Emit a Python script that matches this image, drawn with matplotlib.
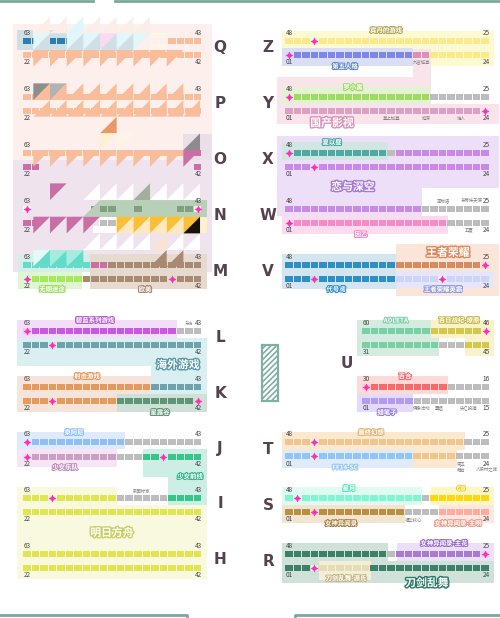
import matplotlib
matplotlib.use("Agg")
import matplotlib.pyplot as plt
import matplotlib.patheffects as pe
from matplotlib.patches import Rectangle

plt.rcParams['font.family'] = ['Noto Sans CJK SC', 'DejaVu Sans']
plt.rcParams['hatch.linewidth'] = 1.2

# seat colours
ORG = '#f9bd9c'; PNK = '#c96fa5'; BRN = '#a88a72'; TEAL = '#60dcc8'; GRN = '#a5e85c'
GRY = '#bdbdbd'; PUR = '#c75ae0'; SLT = '#6ea3ad'; AMB = '#e59a5e'; DGN = '#5f9577'
BLU = '#90bff5'; MAU = '#c9a0c4'; JAD = '#35c68c'; YEL = '#dfe650'; WHT = '#ffffff'
SBL = '#2b7fb0'; NGN = '#b9d0b8'; MOS = '#7f9f7f'; LAV = '#efe3ee'; BLS = '#fdf0ec'; CRM = '#fdf0cf'
PYL = '#fbe98a'; IND = '#7e87e8'; RSE = '#dc92b8'; LIM = '#9ddc5f'; MAG = '#dca0c4'
TL2 = '#4fa9a3'; LIL = '#c88ae6'; HOT = '#f58cc8'; OCE = '#2f8fc4'; TER = '#d98a5e'
PER = '#ced4f8'; MNT = '#78d0a6'; OLV = '#d5c74e'; RED = '#f86a6a'; VIO = '#b39cf0'
TAN = '#efc78e'; SKY = '#8ec6f5'; AQU = '#7ff5d0'; GLD = '#ffd70f'; OCH = '#bb8f42'
SAL = '#ffab9d'; FOR = '#3d8068'; PLM = '#a97ad2'; KHK = '#e6dcb4'

# left block, 21 seats per row: (row, segments, star seats)
left_rows = [
    (41, [(1, SBL), (1, SBL), (1, ORG), (3, SBL), (11, BLS), (4, ORG)], []),
    (55, [(21, ORG)], []),
    (97, [(21, ORG)], []),
    (111, [(21, ORG)], []),
    (153, [(20, ORG), (1, PNK)], []),
    (167, [(2, PNK), (18, LAV), (1, PNK)], []),
    (209, [(8, LAV), (3, MOS), (2, NGN), (1, MOS), (4, NGN), (2, MOS), (1, NGN)], [0, 20]),
    (223, [(2, PNK), (7, LAV), (2, GRY), (10, CRM)], []),
    (265, [(8, TEAL), (2, PNK), (11, BRN)], []),
    (279, [(7, GRN), (14, BRN)], [0, 17]),
    (331, [(18, PUR), (3, GRY)], [0]),
    (345, [(21, SLT)], [3]),
    (387, [(15, AMB), (6, SLT)], []),
    (401, [(11, AMB), (10, DGN)], [3, 20]),
    (442, [(12, BLU), (9, GRY)], [0]),
    (457, [(11, MAU), (3, GRY), (7, JAD)], [0, 16]),
    (498, [(11, YEL), (6, GRY), (4, JAD)], [3]),
    (512, [(21, YEL)], []),
    (554, [(21, YEL)], []),
    (568, [(21, YEL)], []),
]

# right block, 24 seats per row
right_rows = [
    (41, [(24, PYL)], [3]),
    (55, [(15, IND), (2, RSE), (7, PYL)], [0]),
    (97, [(17, LIM), (7, GRY)], [0]),
    (111, [(24, MAG)], [23]),
    (153, [(12, TL2), (1, GRY), (11, LIL)], [0]),
    (167, [(24, LIL)], [3]),
    (209, [(16, LIL), (8, GRY)], []),
    (223, [(19, HOT), (5, GRY)], [0]),
    (265, [(13, OCE), (11, TER)], [23]),
    (279, [(13, OCE), (11, PER)], [3, 18]),
    (442, [(21, TAN), (3, GRY)], [3]),
    (456, [(15, SKY), (5, TAN), (4, GRY)], [3]),
    (498, [(16, AQU), (1, GRY), (7, GLD)], [1]),
    (512, [(14, OCH), (4, GRY), (6, SAL)], [3]),
    (554, [(12, FOR), (1, GRY), (11, PLM)], [23]),
    (568, [(3, FOR), (7, KHK), (14, FOR)], [3]),
]

# block U, 15 seats per row
u_rows = [
    (331, [(8, MNT), (7, OLV)], [14]),
    (345, [(9, MNT), (3, GRY), (3, OLV)], []),
    (387, [(10, RED), (5, GRY)], [0]),
    (401, [(6, VIO), (9, GRY)], []),
]

# end-of-row seat numbers: (row, left number, right number)
left_numbers = [(33, '63', '43'), (62, '22', '42'), (89, '63', '43'), (118, '22', None),
                (145, '63', None), (174, '22', '42'), (201, '63', '43'), (230, '22', None),
                (257, '63', '43'), (286, '22', '42'), (323, '63', '43'), (352, '22', '42'),
                (379, '63', '43'), (408, '22', '42'), (434, '63', '43'), (464, '22', '42'),
                (490, '63', '43'), (519, '22', '42'), (546, '63', '43'), (575, '22', '42')]
right_numbers = [(33, '48', '25'), (62, '01', '24'), (89, '48', '25'), (118, '01', '24'),
                 (145, '48', '25'), (174, '01', '24'), (201, '48', '25'), (230, '01', '24'),
                 (257, '48', '25'), (286, '01', '24'), (434, '48', '25'), (464, '01', '24'),
                 (490, '48', '25'), (519, '01', '24'), (546, '48', '25'), (575, '01', '24')]
u_numbers = [(323, '60', '46'), (352, '31', '45'), (379, '30', '16'), (408, '01', '15')]

# hall letters
left_letters = ['Q', 'P', 'O', 'N', 'M', 'L', 'K', 'J', 'I', 'H']
left_letter_y = [47, 103, 159, 215, 271, 337, 393, 449, 504, 560]
right_letters = ['Z', 'Y', 'X', 'W', 'V', 'T', 'S', 'R']
right_letter_y = [47, 103, 159, 215, 271, 449, 505, 561]

# background zones: x0, y0, x1, y1, colour
zones = [
    (13, 24, 212, 160, BLS), (13, 160, 212, 272, LAV), (183, 134, 212, 160, '#ece0e8'),
    (17, 30, 33, 50, '#cfdfe6'), (50, 30, 67, 50, '#cfdfe6'), (150, 33, 167, 50, '#fdf6e6'),
    (18, 254, 90, 272, '#d5efe8'), (90, 254, 207, 289, '#e6d9cd'),
    (18, 272, 82, 289, '#dff5d3'), (93, 217, 207, 233, CRM), (93, 217, 117, 233, WHT), (100, 200, 207, 217, NGN),
    (17, 320, 177, 338, '#f3defa'), (17, 338, 207, 366, '#d9eff2'), (151, 366, 207, 394, '#d9eff2'),
    (17, 376, 151, 394, '#f6e4da'), (17, 394, 117, 412, '#f6e4da'), (117, 394, 207, 412, '#cfe0d6'),
    (17, 432, 125, 449, '#dfebfc'), (17, 449, 117, 467, '#f6e5f4'), (143, 449, 207, 477, '#cdeee4'),
    (168, 477, 207, 505, '#cdeee4'), (17, 487, 117, 505, '#f9f9e0'), (17, 505, 207, 579, '#f9f9e0'),
    (282, 31, 494, 66, '#fdf9d2'), (282, 48, 413, 66, '#dbdff5'), (413, 49, 431, 77, '#f9e4ec'),
    (277, 77, 431, 104, '#f9e4ec'), (282, 87, 431, 104, '#e3f2d3'), (277, 104, 499, 124, '#f9e4ec'),
    (277, 136, 499, 188, '#ecdff7'), (277, 188, 422, 216, '#ecdff7'), (282, 142, 388, 160, '#cfe6e2'),
    (282, 216, 448, 234, '#fbdcef'), (282, 254, 396, 289, '#d3e6ef'), (396, 244, 499, 296, '#fbe4d8'),
    (396, 271, 494, 288, '#e5e6fa'), (357, 320, 439, 356, '#d6ebdf'), (431, 320, 494, 338, '#f8f3cd'),
    (465, 338, 494, 356, '#f8f3cd'), (357, 376, 448, 394, '#fddada'), (357, 394, 413, 412, '#e4dafb'),
    (282, 432, 465, 450, '#fbe8d0'), (282, 450, 413, 468, '#e0eaf9'), (413, 450, 457, 468, '#fbe8d0'),
    (282, 487, 422, 505, '#e0fbf2'), (431, 487, 494, 505, '#fdf7c8'), (282, 505, 405, 523, '#f3e4d2'),
    (439, 505, 494, 523, '#fde7e2'), (282, 543, 388, 561, '#cfe1d9'), (397, 543, 494, 561, '#ece0f8'),
    (282, 561, 494, 583, '#cfe1d9'), (319, 561, 371, 580, '#f3eed8'),
]

# glitch triangles on the 16.67 px grid: grid row, grid columns, kind, colour
triangles = [
    (0, [0, 1, 3, 4, 5, 6], 'br', '#fbeee9'), (0, [2], 'br', '#dff6fb'),
    (1, [0, 2, 3, 5, 6], 'tl', '#e1f7fb'), (1, [4], 'tl', '#fbd9f0'),
    (1, [0, 2, 3, 4, 5], 'br', '#cfdfe6'),
    (2, [0, 1, 2, 3, 4, 5, 6, 7, 8], 'tl', ORG),
    (4, [0, 1, 2, 3, 4, 5, 6, 7, 8], 'br', ORG), (4, [0], 'tl', '#8e8e8e'), (4, [1], 'tl', '#b3b3b3'),
    (5, [0, 1, 2, 3, 4, 5, 6, 7, 8, 9], 'br', ORG),
    (6, [4], 'br', '#e89a66'), (7, [4], 'tl', '#fdf0d3'), (7, [5], 'tl', '#fdf4e6'),
    (7, [9], 'br', '#8f8a8f'),
    (8, [0, 1, 2, 3, 4, 5, 6, 7, 8], 'tl', ORG), (8, [9], 'tl', PNK),
    (10, [1], 'tl', PNK), (10, [3, 4, 5, 7, 8, 9], 'br', WHT), (10, [6], 'br', '#a0b09b'),
    (11, [3], 'br', NGN),
    (12, [0, 1, 2, 3], 'tl', PNK),
    (12, [5, 6, 7, 8, 9], 'tl', '#fbbf36'), (12, [5, 6, 7, 8], 'br', '#fde8c0'), (12, [9], 'br', '#17110c'),
    (13, [3, 4, 5, 6, 8, 9], 'br', WHT), (13, [7], 'br', '#fbe3cf'),
    (14, [0], 'tl', '#e3fbf7'), (14, [0, 1, 2], 'br', TEAL), (14, [1, 2], 'tl', '#a5ebdf'),
    (14, [7, 8], 'br', BRN),
]

# outlined zone names: text, x, y, font size, colour
labels = [
    ('无期迷途', 52, 289, 4.6, '#9ddc5f'), ('欧美', 145, 289, 4.6, '#a88a72'),
    ('碧蓝系列游戏', 95, 320, 4.6, '#b563cf'), ('海外游戏', 178, 365, 7.8, '#5a9aa5'),
    ('射击游戏', 87, 376, 4.6, '#e59a5e'), ('星露谷', 160, 412, 4.6, '#5f9577'),
    ('泉阿尼', 74, 432, 4.6, '#90bff5'), ('少女乐队', 65, 467, 4.6, '#c58fc0'),
    ('少女前线', 190, 476, 4.6, '#35b58c'), ('明日方舟', 112, 533, 7.8, '#c9d062'),
    ('宾丹的游戏', 386, 30, 4.6, '#b5a85a'), ('第五人格', 345, 66, 4.6, '#5f86c8'),
    ('罗小黑', 353, 87, 4.6, '#9ddc5f'), ('国产影视', 332, 123, 7.8, '#dc92b8'),
    ('夏以昼', 332, 142, 4.6, '#4fa9a3'), ('恋与深空', 353, 187, 7.8, '#a77ad8'),
    ('因乙', 361, 234, 4.6, '#f58cc8'), ('王者荣耀', 448, 253, 7.8, '#d98a5e'),
    ('代号鸢', 336, 289, 4.6, '#2f8fc4'), ('王者荣耀英霸', 443, 289, 4.6, '#8e9be0'),
    ('ADLETA', 396, 320, 4.6, '#78d0a6'), ('百日战纪-燎原', 459, 320, 4.6, '#c8ba4a'),
    ('百合', 405, 376, 4.6, '#f86a6a'), ('蜡笔子', 387, 412, 4.6, '#9a80e8'),
    ('最终幻想', 371, 432, 4.6, '#e3b478'), ('FF14-SC', 345, 467, 4.6, '#8ec6f5'),
    ('星月', 349, 488, 4.6, '#5fe8c0'), ('CB', 461, 488, 4.6, '#f3d020'),
    ('女神异闻录', 341, 523, 4.6, '#a8803f'), ('女神异闻录-主明', 458, 523, 4.6, '#f09a8a'),
    ('女神异闻录-主花', 444, 543, 4.6, '#9a6ecc'), ('刀剑乱舞-源氏', 346, 578, 4.6, '#c4b684'),
    ('刀剑乱舞', 427, 583, 7.8, '#2f7868'),
]

# grey small circle names: text, x, y
small_names = [
    ('东方', 189, 323), ('新国标家', 142, 491), ('九宫城寨', 422, 62), ('墓上加墓', 392, 118),
    ('庭深', 426, 118), ('锥人', 461, 118), ('蛮物语', 443, 201), ('东蒂妹天使', 472, 201),
    ('五夏', 469, 230), ('偶像活动', 422, 408), ('票姐', 439, 408), ('失忆投捕', 469, 408),
    ('第五', 461, 464), ('舞台', 461, 470), ('人狼村之谜', 487, 470), ('福华核心', 414, 520),
]

CELL_W = 7.5
CELL_H = 6.3
PITCH = 8.54


def draw_rows(ax, rows, start):
    for y, segments, stars in rows:
        idx = 0
        for count, color in segments:
            for k in range(count):
                ax.add_patch(Rectangle((start + (idx + k) * PITCH, y - CELL_H / 2), CELL_W, CELL_H,
                                       fc=color, ec='none', zorder=2))
            idx += count
        for s in stars:
            sx = start + s * PITCH
            ax.add_patch(Rectangle((sx, y - CELL_H / 2), CELL_W, CELL_H, fc='white', alpha=0.7, ec='none', zorder=5))
            ax.scatter(sx + CELL_W / 2, y, marker=(4, 1, 0), s=32, c='#ff2fb3', linewidths=0, zorder=6)


def draw_numbers(ax, numbers, x0, x1):
    for y, a, b in numbers:
        if a:
            ax.text(x0, y, a, fontsize=4.6, ha='center', va='center', color='#444444', zorder=7)
        if b:
            ax.text(x1, y, b, fontsize=4.6, ha='center', va='center', color='#444444', zorder=7)


fig = plt.figure(figsize=(5, 6.18), dpi=100)
ax = fig.add_axes([0, 0, 1, 1])
ax.set_xlim(0, 500)
ax.set_ylim(618, 0)
ax.axis('off')

for x0, y0, x1, y1, color in zones:
    ax.add_patch(Rectangle((x0, y0), x1 - x0, y1 - y0, fc=color, ec='none', zorder=1))

draw_rows(ax, left_rows, 23)
draw_rows(ax, right_rows, 285)
draw_rows(ax, u_rows, 362.3)

# triangles go over the seats
for row, cols, kind, color in triangles:
    for c in cols:
        x = 33.33 + c * 16.67
        y = 16.67 + row * 16.67
        s = 16.67
        if kind == 'tl':
            ax.fill([x, x + s, x], [y, y, y + s], color=color, lw=0, zorder=4)
        else:
            ax.fill([x, x + s, x + s], [y + s, y, y + s], color=color, lw=0, zorder=4)

draw_numbers(ax, left_numbers, 27, 198)
draw_numbers(ax, right_numbers, 289, 486)
draw_numbers(ax, u_numbers, 366, 486)

for name, y in zip(left_letters, left_letter_y):
    ax.text(220, y, name, fontsize=11, family='DejaVu Sans', fontweight='bold', color='#54424f',
            ha='center', va='center', zorder=7)
for name, y in zip(right_letters, right_letter_y):
    ax.text(268, y, name, fontsize=11, family='DejaVu Sans', fontweight='bold', color='#54424f',
            ha='center', va='center', zorder=7)
ax.text(347, 364, 'U', fontsize=11, family='DejaVu Sans', fontweight='bold', color='#54424f',
        ha='center', va='center', zorder=7)

for text, x, y, size, color in labels:
    ax.text(x, y, text, fontsize=size, fontweight='bold', color='white', ha='center', va='center', zorder=8,
            path_effects=[pe.withStroke(linewidth=1.5 if size < 6 else 2.0, foreground=color)])
for text, x, y in small_names:
    ax.text(x, y, text, fontsize=3.2, color='#808080', ha='center', va='center', zorder=7)

# hatched block
ax.add_patch(Rectangle((262, 345), 16, 56, fc='white', ec='#7fb0a3', hatch='//////', lw=1.6, zorder=3))

# frame pieces at the top and the bottom
ax.plot([0, 93], [1, 1], color='#79a99c', lw=2, zorder=9)
ax.plot([115, 500], [1, 1], color='#79a99c', lw=2, zorder=9)
ax.plot([0, 187, 187], [614.5, 614.5, 618], color='#79a99c', lw=2, zorder=9)
ax.plot([295, 295, 500], [618, 614.5, 614.5], color='#79a99c', lw=2, zorder=9)

fig.savefig('out.png', dpi=100)
